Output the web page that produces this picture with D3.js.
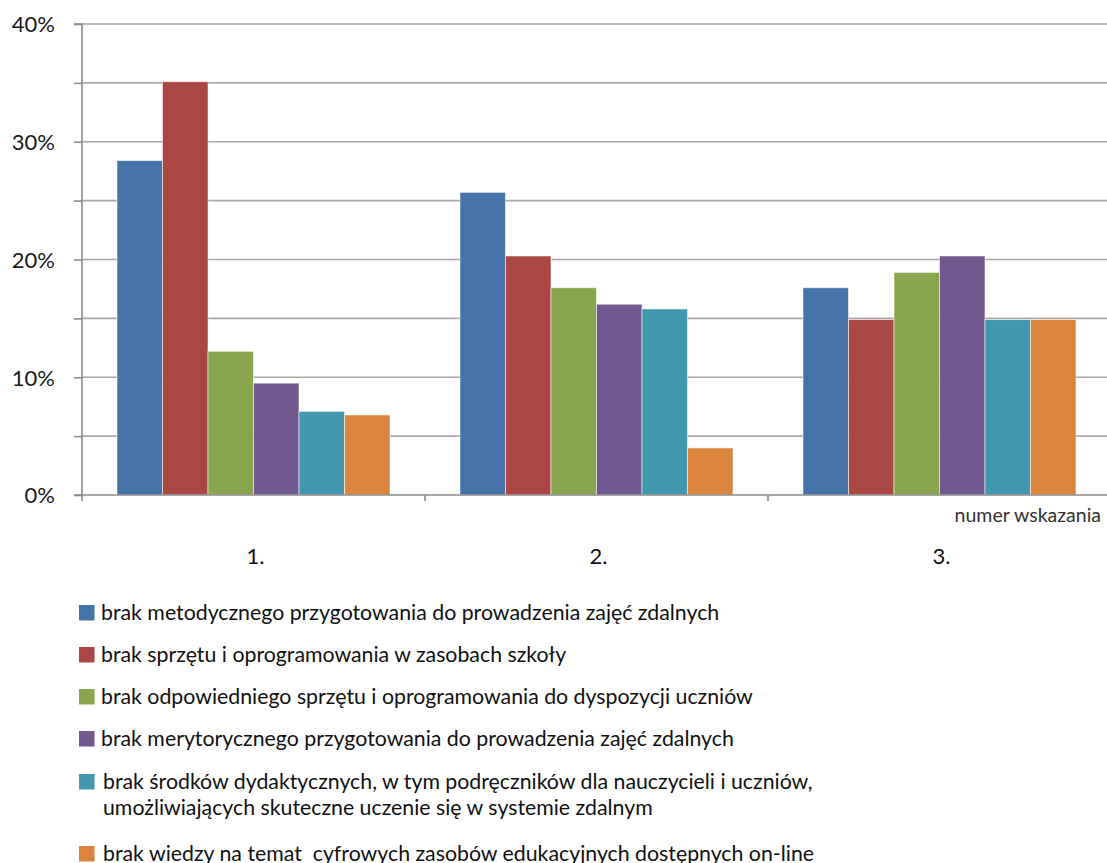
<!DOCTYPE html>
<html>
<head>
<meta charset="utf-8">
<script src="https://cdn.jsdelivr.net/npm/d3@7"></script>
<style>
  html, body { margin: 0; padding: 0; background: #fff; }
  svg text { font-family: Lato, "Open Sans", "Liberation Sans", sans-serif; }
</style>
</head>
<body>
<svg id="chart" width="1107" height="863"></svg>
<script>
// Categories (which answer number) and the reasons shown as series
const categories = ["1.", "2.", "3."];
const seriesNames = [
  "brak metodycznego przygotowania do prowadzenia zajęć zdalnych",
  "brak sprzętu i oprogramowania w zasobach szkoły",
  "brak odpowiedniego sprzętu i oprogramowania do dyspozycji uczniów",
  "brak merytorycznego przygotowania do prowadzenia zajęć zdalnych",
  "brak środków dydaktycznych, w tym podręczników dla nauczycieli i uczniów,\numożliwiających skuteczne uczenie się w systemie zdalnym",
  "brak wiedzy na temat  cyfrowych zasobów edukacyjnych dostępnych on-line"
];
// Percent values per series, one entry per category
const metodyczne   = [28.4, 25.7, 17.6];
const sprzetSzkoly = [35.1, 20.3, 14.9];
const sprzetUczn   = [12.2, 17.6, 18.9];
const merytoryczne = [9.5, 16.2, 20.3];
const srodki       = [7.1, 15.8, 14.9];
const wiedza       = [6.8, 4.0, 14.9];
const seriesValues = [metodyczne, sprzetSzkoly, sprzetUczn, merytoryczne, srodki, wiedza];
const yTicks = [0, 10, 20, 30, 40];
const axisTitle = "numer wskazania";

const colors = ["#4572A7", "#AA4643", "#89A54E", "#71588F", "#4198AF", "#DB843D"];

const svg = d3.select("#chart");
const plotL = 82, plotR = 1111, plotT = 24, plotB = 495;

const y = d3.scaleLinear().domain([0, 40]).range([plotB, plotT]);
const x0 = d3.scaleBand().domain(categories).range([plotL, plotR]).padding(0);
const bw = x0.bandwidth();
const x1 = d3.scaleBand().domain(d3.range(seriesNames.length))
  .range([bw * 0.102, bw * 0.898]).padding(0);

// Gridlines every 5%
const grid = d3.range(5, 45, 5);
svg.append("g").selectAll("line").data(grid).join("line")
  .attr("x1", plotL).attr("x2", plotR)
  .attr("y1", d => y(d)).attr("y2", d => y(d))
  .attr("stroke", "#a9a9a9").attr("stroke-width", 1.6);

// Bars
const rows = [];
categories.forEach((c, ci) => seriesValues.forEach((vals, si) => rows.push({ c, si, v: vals[ci] })));
svg.append("g").selectAll("rect").data(rows).join("rect")
  .attr("x", d => x0(d.c) + x1(d.si))
  .attr("y", d => y(d.v))
  .attr("width", x1.bandwidth())
  .attr("height", d => y(0) - y(d.v))
  .attr("fill", d => colors[d.si])
  .attr("stroke", "rgba(255,255,255,0.55)")
  .attr("stroke-width", 1);

// Y axis
const yAxis = d3.axisLeft(y).tickValues(d3.range(0, 45, 5)).tickSize(8).tickFormat(d => yTicks.includes(d) ? d + "%" : "");
const gy = svg.append("g").attr("transform", `translate(${plotL},0)`).call(yAxis);
gy.select(".domain").attr("stroke", "#8c8c8c").attr("stroke-width", 1.6).attr("d", `M-8,${plotT}H0V${plotB}H-8`);
gy.selectAll(".tick line").attr("stroke", "#8c8c8c").attr("stroke-width", 1.6);
gy.selectAll(".tick text").attr("x", -27).attr("dy", "0.36em")
  .attr("font-size", 22).attr("fill", "#1a1a1a")
  .style("font-family", "Lato, 'Open Sans', sans-serif");

// X axis with boundary ticks between categories
svg.append("line").attr("x1", plotL).attr("x2", plotR).attr("y1", plotB).attr("y2", plotB)
  .attr("stroke", "#8c8c8c").attr("stroke-width", 1.6);
const bounds = categories.map(c => x0(c)).concat([plotR]);
svg.append("g").selectAll("line").data(bounds).join("line")
  .attr("x1", d => d).attr("x2", d => d).attr("y1", plotB).attr("y2", plotB + 6)
  .attr("stroke", "#8c8c8c").attr("stroke-width", 1.6);
svg.append("g").selectAll("text").data(categories).join("text")
  .attr("x", d => x0(d) + bw / 2 + 2).attr("y", 564)
  .attr("text-anchor", "middle").attr("font-size", 22).attr("fill", "#111")
  .text(d => d);

svg.append("text").attr("x", 1101).attr("y", 522).attr("text-anchor", "end")
  .attr("font-size", 19.5).attr("fill", "#333").text(axisTitle);

// Legend
const legendY = [613, 655, 697, 739, 782, 854];
const lg = svg.append("g");
seriesNames.forEach((name, i) => {
  lg.append("rect").attr("x", 79).attr("y", legendY[i] - 8).attr("width", 15.5).attr("height", 15.5)
    .attr("fill", colors[i]);
  const lines = name.split("\n");
  lines.forEach((ln, k) => {
    lg.append("text").attr("x", i >= 4 ? 103 : 101).attr("y", legendY[i] + k * 26)
      .attr("dy", "0.35em").attr("font-size", 21.3).attr("fill", "#111")
      .attr("xml:space", "preserve").style("white-space", "pre")
      .text(ln);
  });
});
</script>
</body>
</html>
